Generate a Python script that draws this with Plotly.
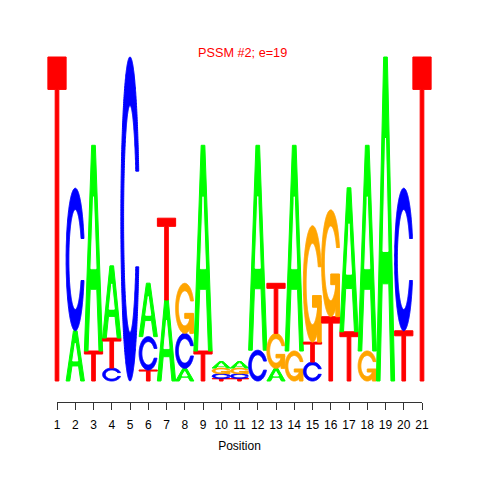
import numpy as np
import plotly.graph_objects as go

# ---- data (bits per nucleotide, position 1..21) ----
positions = list(range(1, 22))
bits_A = [0, 0.31, 1.27, 0.446, 0, 0.33, 0.50, 0.078, 1.27, 0.04, 0.04, 1.265, 0.078, 1.27, 0, 0, 0.889, 1.27, 2.0, 0, 0]
bits_C = [0, 0.88, 0, 0.08, 2.0, 0.206, 0, 0.216, 0, 0.03, 0.03, 0.19, 0, 0, 0.117, 0, 0, 0, 0, 0.88, 0]
bits_G = [0, 0, 0, 0, 0, 0, 0, 0.309, 0, 0.035, 0.035, 0, 0.216, 0.185, 0.718, 0.659, 0, 0.185, 0, 0, 0]
bits_T = [2.0, 0, 0.185, 0.185, 0, 0.068, 0.505, 0, 0.185, 0.015, 0.015, 0, 0.309, 0, 0.123, 0.397, 0.304, 0, 0, 0.31, 2.0]
tick_labels = [str(p) for p in positions]
title_text = "PSSM #2; e=19"
xlabel = "Position"

colors = {"A": "#00FF00", "C": "#0000FF", "G": "#FFA500", "T": "#FF0000"}


# ---- glyph outlines in a unit box (seqLogo style) ----
def glyph_C_outline():
    a1 = np.linspace(0.3 + np.pi / 2, np.pi, 100)
    a2 = np.linspace(np.pi, 1.5 * np.pi, 100)
    xl = np.concatenate([0.5 + 0.5 * np.sin(a1), 0.5 + 0.5 * np.sin(a2)])
    yl1 = 0.5 + 0.5 * np.cos(a1)
    yl = np.concatenate([yl1, 0.5 + 0.5 * np.cos(a2)])
    x = np.concatenate([xl, xl[::-1]])
    y = np.concatenate([yl, 1 - yl[::-1]])
    xi1 = 0.5 + 0.35 * np.sin(a1)
    yi1 = 0.5 + 0.35 * np.cos(a1)
    keep = yi1 <= yl1.max()
    xi1 = xi1[keep]
    yi1 = yi1[keep].copy()
    yi1[0] = yl1.max()
    xi = np.concatenate([xi1, 0.5 + 0.35 * np.sin(a2)])
    yi = np.concatenate([yi1, 0.5 + 0.35 * np.cos(a2)])
    x1 = np.concatenate([xi, xi[::-1]])
    y1 = np.concatenate([yi, 1 - yi[::-1]])
    return np.concatenate([x, x1[::-1]]), np.concatenate([y, y1[::-1]]), (0.5 + 0.5 * np.sin(a1)).max()


def glyph(letter):
    col = colors[letter]
    if letter == "A":
        return [
            (np.array([0, 4, 6, 10, 8, 6.8, 3.2, 2, 0]) / 10, np.array([0, 10, 10, 0, 0, 3, 3, 0, 0]) / 10, col),
            (np.array([3.6, 5, 6.4, 3.6]) / 10, np.array([4, 7.5, 4, 4]) / 10, "#FFFFFF"),
        ]
    if letter == "T":
        return [(np.array([0, 10, 10, 6, 6, 4, 4, 0]) / 10, np.array([10, 10, 9, 9, 0, 0, 9, 9]) / 10, col)]
    cx, cy, r1 = glyph_C_outline()
    polys = [(cx, cy, col)]
    if letter == "G":
        h1 = 0.4
        polys.append((np.array([r1, 0.5, 0.5, r1 - 0.2, r1 - 0.2, r1, r1]),
                      np.array([h1, h1, h1 - 0.1, h1 - 0.1, 0, 0, h1]), col))
    return polys


fig = go.Figure()
# invisible traces so that both x axes exist
fig.add_trace(go.Scatter(x=positions, y=[0] * len(positions), mode="markers",
                         marker=dict(opacity=0), hoverinfo="skip", showlegend=False))
fig.add_trace(go.Scatter(x=positions, y=[0] * len(positions), mode="markers", xaxis="x2",
                         marker=dict(opacity=0), hoverinfo="skip", showlegend=False))

letter_width = 1.0
bits = {"A": bits_A, "C": bits_C, "G": bits_G, "T": bits_T}
shapes = []
for i, pos in enumerate(positions):
    stack = sorted([(bits[L][i], L) for L in "ACGT" if bits[L][i] > 0])
    base = 0.0
    for h, L in stack:
        for ux, uy, col in glyph(L):
            px = pos - letter_width / 2 + ux * letter_width
            py = base + uy * h
            path = "M " + " L ".join(f"{a:.4f},{b:.5f}" for a, b in zip(px, py)) + " Z"
            shapes.append(dict(type="path", path=path, xref="x", yref="y",
                               fillcolor=col, line=dict(color=col, width=1), layer="above"))
        base += h

# ---- layout geometry (pixels, relative to the figure; page body adds an 8px offset) ----
OFF = 8.0
W = H = 464
px_first, px_last = 57.0 - OFF, 422.0 - OFF      # pixel x of position 1 and 21
py_base, py_top = 381.0 - OFF, 57.0 - OFF         # pixel y of 0 bits and 2 bits
axis_py = 402.0 - OFF
title_py = 52.5 - OFF
unit_x = (px_last - px_first) / (positions[-1] - positions[0])
unit_y = (py_base - py_top) / 2.0
xr = [positions[0] - px_first / unit_x, positions[0] + (W - px_first) / unit_x]
yr = [(py_base - H) / unit_y, py_base / unit_y]

font = "Liberation Sans, Arial, Helvetica, sans-serif"
fig.update_layout(
    width=W, height=H,
    margin=dict(l=0, r=0, t=0, b=0),
    paper_bgcolor="white", plot_bgcolor="white",
    shapes=shapes,
    showlegend=False,
    xaxis=dict(range=xr, visible=False, fixedrange=True, automargin=False),
    yaxis=dict(range=yr, visible=False, fixedrange=True, automargin=False),
    xaxis2=dict(domain=[px_first / W, px_last / W], range=[positions[0], positions[-1]],
                anchor="free", position=1 - axis_py / H,
                showline=True, linecolor="#333333", linewidth=1,
                ticks="outside", ticklen=7, tickwidth=1, tickcolor="#333333",
                tickvals=positions, ticktext=tick_labels, ticklabelstandoff=5,
                tickfont=dict(family=font, size=12, color="black"),
                showgrid=False, zeroline=False, automargin=False,
                title=dict(text=xlabel, font=dict(family=font, size=12, color="black"), standoff=10)),
    annotations=[dict(text=title_text, x=(242.0 - OFF) / W, y=1 - title_py / H,
                      xref="paper", yref="paper",
                      xanchor="center", yanchor="middle", showarrow=False,
                      font=dict(family=font, size=12.7, color="#FF0000"))],
)

fig.write_html("out.html")
